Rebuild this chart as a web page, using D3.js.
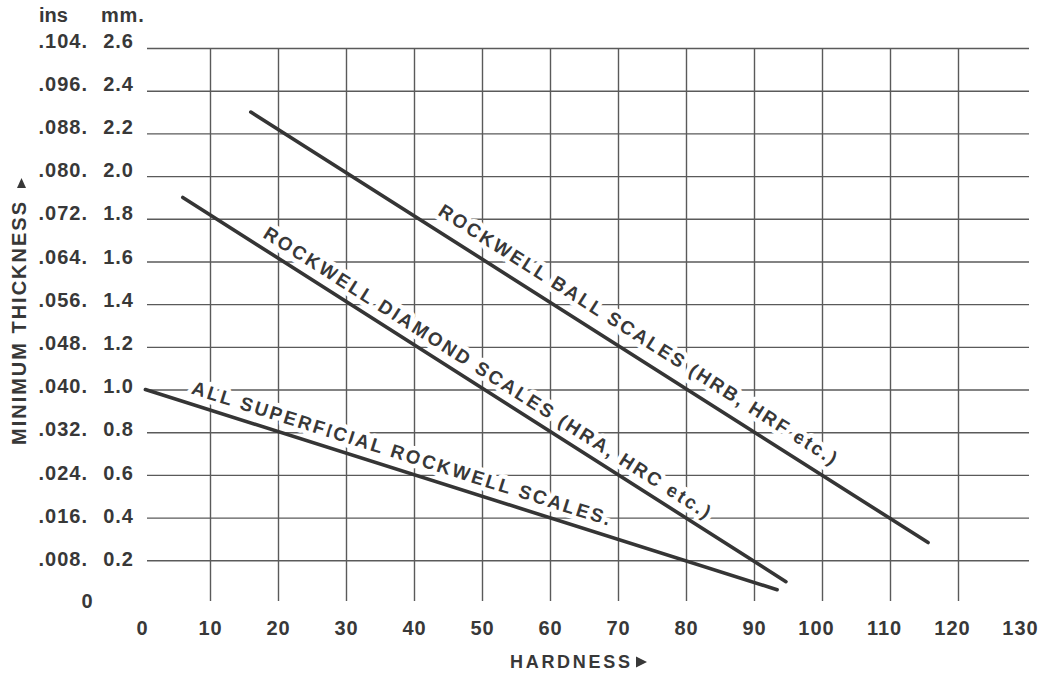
<!DOCTYPE html>
<html><head><meta charset="utf-8">
<script src="https://cdn.jsdelivr.net/npm/d3@7"></script>
<style>
body{margin:0;background:#fff}
svg text{font-family:"Liberation Sans",Arial,Helvetica,sans-serif;font-weight:bold;fill:#383838}
</style>
</head><body>
<svg id="chart" width="1049" height="677"></svg>
<script>
// ---- data ----
const hardnessTicks = [0,10,20,30,40,50,60,70,80,90,100,110,120,130];
const thicknessMm = [2.6,2.4,2.2,2.0,1.8,1.6,1.4,1.2,1.0,0.8,0.6,0.4,0.2];
const thicknessIns = [".104.",".096.",".088.",".080.",".072.",".064.",".056.",".048.",".040.",".032.",".024.",".016.",".008."];
const seriesNames = ["ROCKWELL BALL SCALES (HRB, HRF etc.)","ROCKWELL DIAMOND SCALES (HRA, HRC etc.)","ALL SUPERFICIAL ROCKWELL SCALES."];
const ballHardness = [16, 115.6];
const ballMm = [2.30, 0.283];
const diamondHardness = [6, 94.7];
const diamondMm = [1.90, 0.10];
const superficialHardness = [0.5, 93.4];
const superficialMm = [1.0, 0.062];

// ---- layout ----
const svg = d3.select("#chart");
const x = d3.scaleLinear().domain([0,130]).range([142,1026]);
const y = d3.scaleLinear().domain([0,2.6]).range([603,48]);
const gridColor = "#5a5a5a";
const ink = "#383838";

// vertical grid (10..120)
const gx = svg.append("g").attr("transform","translate(0,601)")
  .call(d3.axisBottom(x).tickValues(hardnessTicks.filter(v=>v>0&&v<130)).tickSize(-(601-y(2.6))).tickFormat(""));
gx.select(".domain").remove();
gx.selectAll("line").attr("stroke",gridColor).attr("stroke-width",1.4);

// horizontal grid
const gy = svg.append("g").attr("transform","translate(147,0)")
  .call(d3.axisLeft(y).tickValues(thicknessMm).tickSize(-(1029-147)).tickFormat(""));
gy.select(".domain").remove();
gy.selectAll("line").attr("stroke",gridColor).attr("stroke-width",1.4);

// x tick labels
const xl = svg.append("g").attr("transform","translate(0,635)")
  .call(d3.axisBottom(x).tickValues(hardnessTicks).tickSize(0).tickFormat(d3.format("d")));
xl.select(".domain").remove();
xl.attr("font-family",null).attr("font-size",null);
xl.selectAll(".tick text").attr("y",0).attr("dy",null)
  .attr("dx",d=>d>=100?-6:0)
  .attr("font-size",20).attr("letter-spacing",1).attr("fill",ink);

const labelShift = v => -1 + 0.012*(y(v)-48);

// y tick labels (mm)
const ym = svg.append("g").attr("transform","translate(134,0)")
  .call(d3.axisLeft(y).tickValues(thicknessMm).tickSize(0).tickFormat(d3.format(".1f")));
ym.select(".domain").remove();
ym.attr("font-family",null).attr("font-size",null);
ym.selectAll(".tick text").attr("x",0).attr("dy",null).attr("y",d=>labelShift(d))
  .attr("font-size",20).attr("letter-spacing",1).attr("fill",ink);

// y tick labels (ins)
const yi = svg.append("g").attr("transform","translate(88,0)")
  .call(d3.axisLeft(y).tickValues(thicknessMm).tickSize(0).tickFormat((d,i)=>thicknessIns[i]));
yi.select(".domain").remove();
yi.attr("font-family",null).attr("font-size",null);
yi.selectAll(".tick text").attr("x",0).attr("dy",null).attr("y",d=>labelShift(d))
  .attr("font-size",20).attr("letter-spacing",1).attr("fill",ink);

// zero label
svg.append("text").attr("x",87).attr("y",y(0)+5).attr("text-anchor","middle")
  .attr("font-size",20).text("0");

// unit headers
svg.append("text").attr("x",39).attr("y",21.5).attr("font-size",20).text("ins");
svg.append("text").attr("x",101).attr("y",21.5).attr("font-size",20).attr("letter-spacing",0.8).text("mm.");

// axis titles
svg.append("text").attr("transform","translate(26,445) rotate(-90)").attr("font-size",20)
  .attr("textLength",243).attr("lengthAdjust","spacing").text("MINIMUM THICKNESS");
svg.append("path").attr("d","M21.5,178 L26,188 L17,188 Z").attr("fill",ink);
svg.append("text").attr("x",510).attr("y",668).attr("font-size",18)
  .attr("textLength",120).attr("lengthAdjust","spacing").text("HARDNESS");
svg.append("path").attr("d","M636,656.5 L647,662 L636,667.5 Z").attr("fill",ink);

// ---- series ----
const series = [
  {h: ballHardness, m: ballMm, name: seriesNames[0], start: 42.3, off: 13.5, len: 468},
  {h: diamondHardness, m: diamondMm, name: seriesNames[1], start: 16.9, off: 9.5, len: 526},
  {h: superficialHardness, m: superficialMm, name: seriesNames[2], start: 6.7, off: 10, len: 438}
];

series.forEach(s=>{
  const x0=x(s.h[0]), y0=y(s.m[0]), x1=x(s.h[1]), y1=y(s.m[1]);
  const a = Math.atan2(y1-y0, x1-x0);
  const t = (s.start - s.h[0])/(s.h[1]-s.h[0]);
  const fx = x0 + t*(x1-x0), fy = y0 + t*(y1-y0);
  const px = fx + s.off*Math.sin(a), py = fy - s.off*Math.cos(a);
  svg.append("text")
    .attr("transform",`translate(${px},${py}) rotate(${a*180/Math.PI})`)
    .attr("font-size",19)
    .attr("textLength",s.len).attr("lengthAdjust","spacing")
    .attr("stroke","#fff").attr("stroke-width",9).attr("stroke-linejoin","round")
    .attr("paint-order","stroke")
    .text(s.name);
});

const line = d3.line().x(d=>x(d[0])).y(d=>y(d[1]));
series.forEach(s=>{
  svg.append("path").datum(d3.zip(s.h,s.m)).attr("d",line)
    .attr("fill","none").attr("stroke","#353535").attr("stroke-width",3.6).attr("stroke-linecap","round");
});
</script>
</body></html>
